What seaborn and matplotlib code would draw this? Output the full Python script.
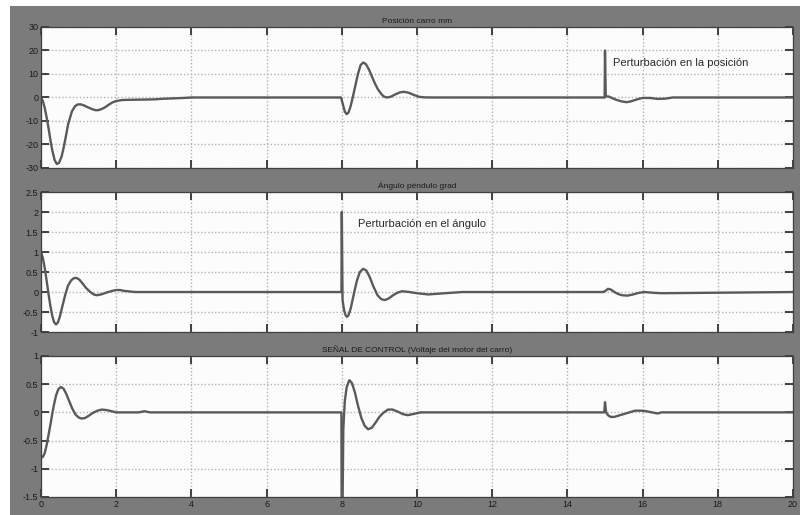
import numpy as np
import pandas as pd
import seaborn as sns
import matplotlib
matplotlib.use("Agg")
import matplotlib.pyplot as plt
from matplotlib.patches import Rectangle

# posicion del carro (mm)
t_pos = [0, 0.05, 0.1, 0.15, 0.2, 0.25, 0.3, 0.36, 0.42, 0.48, 0.55, 0.6, 0.65, 0.72, 0.82, 0.9, 0.97, 1.05, 1.15, 1.25,
         1.35, 1.45, 1.52, 1.6, 1.7, 1.8, 1.9, 2.0, 2.15, 2.3, 2.7, 3.0, 3.3, 3.8, 4.0,
         7.98, 8.03, 8.08, 8.13, 8.18, 8.23, 8.29, 8.36, 8.43, 8.5, 8.57, 8.64, 8.72, 8.8, 8.88, 8.96, 9.05, 9.12,
         9.2, 9.3, 9.42, 9.55, 9.66, 9.78, 9.9, 10.05, 10.2, 10.4,
         14.99, 15.0, 15.02, 15.1, 15.2, 15.3, 15.45, 15.58, 15.7, 15.85, 16.0, 16.2, 16.4, 16.6, 16.8, 20]
y_pos = [0, -1.5, -4.5, -8.5, -13, -18, -22.5, -26.5, -28.3, -27.8, -25, -21.5, -17.5, -11.5, -6, -3.8, -3.0, -2.9, -3.4, -4.2,
         -4.9, -5.4, -5.4, -5.0, -4.2, -3.1, -2.1, -1.5, -1.1, -1.0, -0.9, -0.8, -0.5, -0.2, 0,
         0, -3.0, -6.0, -7.1, -6.3, -4.0, 0, 5, 10, 13.8, 14.9, 14.2, 12, 9, 6, 3.5, 1.5, 0.4,
         0.0, 0.3, 1.3, 2.2, 2.4, 2.0, 1.2, 0.3, 0.05, 0,
         0, 20, 0.5, 0.4, -0.3, -1.0, -1.7, -2.0, -1.6, -0.8, -0.2, -0.2, -0.6, -0.5, 0, 0]

# angulo del pendulo (grad)
t_ang = [0, 0.05, 0.1, 0.15, 0.2, 0.25, 0.3, 0.35, 0.4, 0.45, 0.5, 0.57, 0.65, 0.72, 0.8, 0.88, 0.95, 1.02, 1.1, 1.2,
         1.3, 1.4, 1.48, 1.6, 1.75, 1.9, 2.0, 2.1, 2.2, 2.5,
         7.99, 8.0, 8.02, 8.06, 8.1, 8.14, 8.18, 8.24, 8.32, 8.4, 8.48, 8.57, 8.65, 8.74, 8.84, 8.95, 9.05, 9.15,
         9.25, 9.35, 9.47, 9.6, 9.8, 10.0, 10.3, 10.6, 10.9, 11.2,
         14.95, 15.0, 15.08, 15.16, 15.25, 15.35, 15.45, 15.6, 15.75, 15.9, 16.05, 16.3, 16.5, 20]
y_ang = [1.0, 0.85, 0.6, 0.28, -0.05, -0.35, -0.6, -0.76, -0.81, -0.76, -0.62, -0.35, -0.05, 0.16, 0.29, 0.35, 0.35, 0.31, 0.22, 0.1,
         0.01, -0.06, -0.08, -0.06, -0.01, 0.03, 0.05, 0.05, 0.03, 0,
         0, 2.0, -0.2, -0.45, -0.58, -0.62, -0.58, -0.4, -0.05, 0.28, 0.5, 0.58, 0.54, 0.38, 0.14, -0.08, -0.18, -0.2,
         -0.16, -0.09, -0.02, 0.02, 0.0, -0.03, -0.06, -0.04, -0.02, 0,
         0, 0.02, 0.08, 0.06, 0.0, -0.05, -0.08, -0.09, -0.06, -0.02, 0.0, -0.02, -0.03, 0]

# senal de control (voltaje)
t_ctl = [0, 0.05, 0.1, 0.15, 0.2, 0.25, 0.3, 0.35, 0.4, 0.46, 0.53, 0.6, 0.67, 0.75, 0.83, 0.92, 1.0, 1.08, 1.17, 1.27,
         1.38, 1.5, 1.62, 1.75, 1.88, 2.0, 2.6, 2.75, 2.9,
         7.99, 8.0, 8.04, 8.08, 8.13, 8.2, 8.27, 8.35, 8.43, 8.52, 8.61, 8.7, 8.8, 8.9, 9.0, 9.1, 9.23, 9.35, 9.5,
         9.62, 9.75, 9.9, 10.1,
         14.98, 15.0, 15.03, 15.08, 15.15, 15.25, 15.35, 15.5, 15.65, 15.8, 15.95, 16.1, 16.25, 16.4, 16.5, 20]
y_ctl = [-0.8, -0.79, -0.72, -0.58, -0.4, -0.22, -0.02, 0.15, 0.3, 0.41, 0.45, 0.42, 0.33, 0.2, 0.07, -0.04, -0.09, -0.11, -0.1, -0.06,
         -0.01, 0.03, 0.05, 0.04, 0.02, 0, 0, 0.02, 0,
         0, -3.0, -0.3, 0.2, 0.45, 0.57, 0.52, 0.35, 0.12, -0.1, -0.24, -0.3, -0.27, -0.18, -0.08, -0.01, 0.05, 0.05, 0.01,
         -0.03, -0.05, -0.03, 0,
         0, 0.18, 0.0, -0.05, -0.08, -0.08, -0.06, -0.03, 0.0, 0.03, 0.03, 0.02, 0.0, -0.02, 0, 0]

titles = ["Posición carro mm", "Ángulo péndulo grad", "SEÑAL DE CONTROL (Voltaje del motor del carro)"]
yticks_pos = [-30, -20, -10, 0, 10, 20, 30]
yticks_ang = [-1, -0.5, 0, 0.5, 1, 1.5, 2, 2.5]
yticks_ctl = [-1.5, -1, -0.5, 0, 0.5, 1]
xticks = list(range(0, 21, 2))

plt.rcParams['font.family'] = ['Liberation Sans', 'DejaVu Sans']

fig = plt.figure(figsize=(8, 5.15), dpi=100)
fig.patch.set_facecolor('white')
fig.add_artist(Rectangle((10/800, 0), 1, 1 - 6/515, transform=fig.transFigure,
                         facecolor='#7b7b7b', edgecolor='none', zorder=-1))

boxes = [[0.05125, 0.6738, 0.94, 0.2738],
         [0.05125, 0.3553, 0.94, 0.2718],
         [0.05125, 0.0350, 0.94, 0.2738]]
series = [(t_pos, y_pos, yticks_pos), (t_ang, y_ang, yticks_ang), (t_ctl, y_ctl, yticks_ctl)]

axs = []
for i, (box, (t, y, yt)) in enumerate(zip(boxes, series)):
    ax = fig.add_axes(box)
    df = pd.DataFrame({'t': t, 'y': y})
    sns.lineplot(data=df, x='t', y='y', ax=ax, color='#5a5a5a', lw=1.7,
                 sort=False, estimator=None)
    ax.set_facecolor('#fcfcfc')
    ax.set_xlim(0, 20)
    ax.set_ylim(yt[0], yt[-1])
    ax.set_xticks(xticks)
    ax.set_yticks(yt)
    ax.set_yticklabels([('%g' % v) for v in yt])
    if i < 2:
        ax.set_xticklabels([])
    ax.set_xlabel('')
    ax.set_ylabel('')
    ax.grid(True, linestyle=(0, (1, 1.5)), color='#b4b4b4', lw=1.0)
    ax.tick_params(direction='in', top=True, right=True, length=6, width=1.4,
                   color='#404040', labelsize=6.5, labelcolor='#1a1a1a', pad=2)
    for s in ax.spines.values():
        s.set_color('#404040')
        s.set_linewidth(0.9)
    ax.set_title(titles[i], fontsize=6, color='#1a1a1a', pad=3)
    axs.append(ax)

axs[0].text(15.2, 14.5, 'Perturbación en la posición', fontsize=8, color='#2a2a2a', va='center')
axs[1].text(8.43, 1.7, 'Perturbación en el ángulo', fontsize=8, color='#2a2a2a', va='center')

fig.savefig('out.png', dpi=100)
